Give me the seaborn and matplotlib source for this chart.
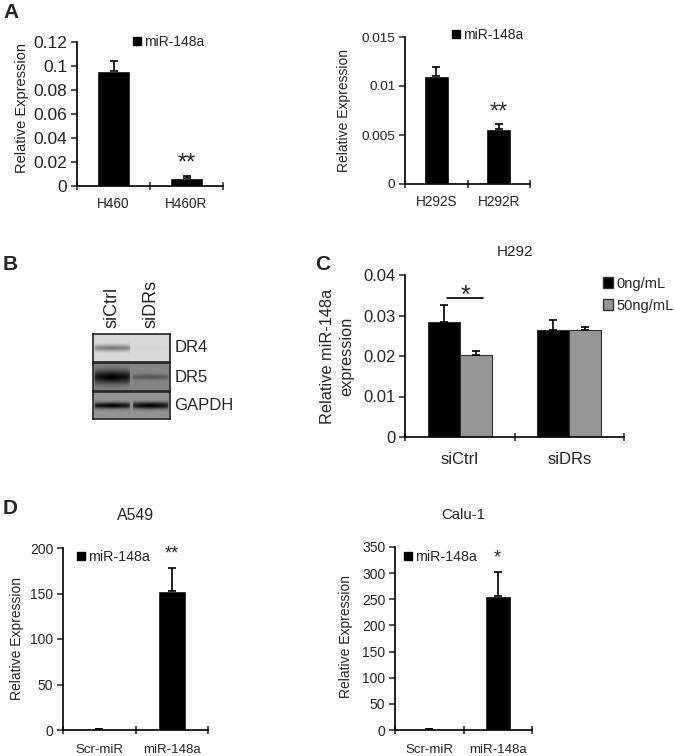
import numpy as np
import pandas as pd
import matplotlib
matplotlib.use('Agg')
import matplotlib.pyplot as plt
from matplotlib.patches import Patch
from matplotlib.ticker import FuncFormatter
import seaborn as sns

# ---- data ----
a1_cells = ['H460', 'H460R']
a1_expr = [0.096, 0.007]
a1_err = [0.008, 0.001]

a2_cells = ['H292S', 'H292R']
a2_expr = [0.011, 0.0056]
a2_err = [0.0009, 0.0005]

c_groups = ['siCtrl', 'siDRs']
c_doses = ['0ng/mL', '50ng/mL']
c_expr_0 = [0.0283, 0.0265]
c_err_0 = [0.0042, 0.0023]
c_expr_50 = [0.0202, 0.0265]
c_err_50 = [0.0011, 0.0007]

d_groups = ['Scr-miR', 'miR-148a']
d1_expr = [1.0, 153.0]
d1_err = [0.3, 25.0]
d2_expr = [1.0, 257.0]
d2_err = [0.3, 46.0]

blot_lanes = ['siCtrl', 'siDRs']
blot_rows = ['DR4', 'DR5', 'GAPDH']
blot_background = [0.85, 0.52, 0.58]
blot_band_strength = [[0.38, 0.02], [0.52, 0.2], [0.58, 0.58]]
blot_band_sigma = [[2.2, 2.0], [4.8, 1.8], [2.2, 2.4]]

W, H = 674, 756
sns.set_style('white')
plt.rcParams['font.family'] = ['Liberation Sans', 'DejaVu Sans']
plt.rcParams['axes.linewidth'] = 1.2

fig = plt.figure(figsize=(W / 100, H / 100), dpi=100)


def box(x0, y0, x1, y1):
    return [x0 / W, 1 - y1 / H, (x1 - x0) / W, (y1 - y0) / H]


def fmt_tick(v, pos):
    return f'{v:g}'


def style_axis(ax, ymax, ystep, tick_fs, xlab_fs, xpad=8):
    sns.despine(ax=ax)
    for s in ['left', 'bottom']:
        ax.spines[s].set_color('black')
    ax.set_xlim(-0.5, 1.5)
    ax.set_ylim(0, ymax)
    ax.set_yticks(np.arange(0, ymax + ystep / 2, ystep))
    ax.yaxis.set_major_formatter(FuncFormatter(fmt_tick))
    ax.tick_params(axis='y', direction='out', length=4, width=1.1,
                   labelsize=tick_fs, left=True, pad=3)
    ax.set_xticks([-0.5, 0.5, 1.5], minor=True)
    ax.tick_params(axis='x', which='major', length=0, labelsize=xlab_fs, pad=xpad)
    ax.tick_params(axis='x', which='minor', direction='inout', length=6,
                   width=1.1, bottom=True)
    ax.set_xlabel('')
    ax.set_ylabel('')


def add_errors(ax, vals, errs):
    bars = [p for c in ax.containers for p in c]
    xs = [p.get_x() + p.get_width() / 2 for p in bars]
    ax.errorbar(xs, vals, yerr=[np.zeros(len(errs)), errs], fmt='none',
                ecolor='black', elinewidth=1.2, capsize=3.2, capthick=1.2)
    return xs


def mir_legend(ax, x, y, fs=10):
    ax.legend(handles=[Patch(facecolor='black', edgecolor='black')],
              labels=['miR-148a'], loc='center left', bbox_to_anchor=(x, y),
              frameon=False, handlelength=0.55, handleheight=0.55,
              handletextpad=0.25, borderpad=0, borderaxespad=0, fontsize=fs)


def simple_panel(rect, cats, vals, errs, ymax, ystep, width, tick_fs, xlab_fs, xpad):
    ax = fig.add_axes(rect)
    sns.barplot(x=cats, y=vals, color='black', saturation=1, width=width,
                errorbar=None, ax=ax)
    style_axis(ax, ymax, ystep, tick_fs, xlab_fs, xpad)
    xs = add_errors(ax, vals, errs)
    return ax, xs


# ---- panel A ----
axA1, xs = simple_panel(box(77, 42, 223, 186), a1_cells, a1_expr, a1_err,
                        0.12, 0.02, 0.46, 12.5, 9.8, 8)
axA1.text(xs[1], a1_expr[1] + a1_err[1] + 0.0013, '**', ha='center',
          va='bottom', fontsize=17)
mir_legend(axA1, 0.384, 1.0)
fig.text(22 / W, 1 - 108 / H, 'Relative Expression', rotation=90,
         ha='center', va='center', fontsize=10.5)

axA2, xs = simple_panel(box(405, 37, 530, 184), a2_cells, a2_expr, a2_err,
                        0.015, 0.005, 0.4, 9.7, 9.8, 8)
axA2.text(xs[1], a2_expr[1] + a2_err[1] + 0.00005, '**', ha='center',
          va='bottom', fontsize=17, color='#333333')
mir_legend(axA2, 0.376, 1.014)
fig.text(344 / W, 1 - 111 / H, 'Relative Expression', rotation=90,
         ha='center', va='center', fontsize=10)

fig.text(3 / W, 1 - 13 / H, 'A', fontsize=15, fontweight='bold', va='center')

# ---- panel B: western blot ----
fig.text(3 / W, 1 - 264 / H, 'B', fontsize=15, fontweight='bold', va='center')
row_edges = [(334, 362), (363, 391), (392, 419)]
n_lanes = len(blot_lanes)
for r, (y0, y1) in enumerate(row_edges):
    ax = fig.add_axes(box(93, y0, 170, y1))
    h, w = (y1 - y0) * 4, 77 * 4
    yy = np.linspace(-(y1 - y0) / 2, (y1 - y0) / 2, h)[:, None]
    xx = np.linspace(0, n_lanes, w)[None, :]
    img = np.full((h, w), blot_background[r])
    for k in range(n_lanes):
        lane_mask = np.clip(1 - np.abs(xx - (k + 0.5)) / 0.5, 0, 1) ** 0.15
        lane_mask = np.where(np.abs(xx - (k + 0.5)) < 0.46, lane_mask, 0)
        band = np.exp(-0.5 * (yy / blot_band_sigma[r][k]) ** 2)
        img = img - blot_band_strength[r][k] * band * lane_mask
    ax.imshow(np.clip(img, 0, 1), cmap='gray', vmin=0, vmax=1,
              aspect='auto', interpolation='bilinear')
    ax.set_xticks([])
    ax.set_yticks([])
    for s in ax.spines.values():
        s.set_visible(True)
        s.set_color('#222222')
        s.set_linewidth(1.2)
    ax.text(1.06, 0.5, blot_rows[r], transform=ax.transAxes, ha='left',
            va='center', fontsize=12)
    if r == 0:
        for k, lane in enumerate(blot_lanes):
            ax.text((k + 0.5) / n_lanes, 1.22, lane, transform=ax.transAxes,
                    rotation=90, ha='center', va='bottom', fontsize=13)

# ---- panel C ----
fig.text(315 / W, 1 - 264 / H, 'C', fontsize=15, fontweight='bold', va='center')
c_df = pd.DataFrame({
    'group': c_groups * 2,
    'dose': [c_doses[0]] * 2 + [c_doses[1]] * 2,
    'expr': c_expr_0 + c_expr_50,
})
axC = fig.add_axes(box(405, 275, 624, 437))
sns.barplot(data=c_df, x='group', y='expr', hue='dose',
            palette=['black', '#959595'], saturation=1, width=0.58,
            errorbar=None, edgecolor='#333333', linewidth=0.8, ax=axC)
style_axis(axC, 0.04, 0.01, 12, 12, 11)
c_xs = add_errors(axC, c_expr_0 + c_expr_50, c_err_0 + c_err_50)
sig_y = c_expr_0[0] + c_err_0[0] + 0.0017
axC.plot([c_xs[0] + 0.03, c_xs[2] + 0.07], [sig_y, sig_y], color='black', lw=1.2)
axC.text((c_xs[0] + c_xs[2]) / 2 + 0.05, sig_y - 0.0024, '*', ha='center',
         va='bottom', fontsize=18)
axC.legend(handles=[Patch(facecolor='black', edgecolor='#333333'),
                    Patch(facecolor='#959595', edgecolor='#333333')],
           labels=c_doses, loc='upper left', bbox_to_anchor=(0.905, 0.99),
           frameon=False, handlelength=0.7, handleheight=0.7,
           handletextpad=0.2, borderpad=0, borderaxespad=0,
           labelspacing=0.55, fontsize=10.5)
axC.set_title('H292', fontsize=11, pad=14)
fig.text(328 / W, 1 - 356 / H, 'Relative miR-148a', rotation=90,
         ha='center', va='center', fontsize=11.8)
fig.text(347 / W, 1 - 356 / H, 'expression', rotation=90,
         ha='center', va='center', fontsize=11.8)

# ---- panel D ----
fig.text(3 / W, 1 - 509 / H, 'D', fontsize=15, fontweight='bold', va='center')
axD1, xs = simple_panel(box(63, 548, 208, 730), d_groups, d1_expr, d1_err,
                        200, 50, 0.39, 10, 9.5, 10)
axD1.text(xs[1], d1_expr[1] + d1_err[1] + 6, '**', ha='center',
          va='bottom', fontsize=13)
mir_legend(axD1, 0.097, 0.95, 10.3)
axD1.set_title('A549', fontsize=11.4, pad=20)
fig.text(17 / W, 1 - 638 / H, 'Relative Expression', rotation=90,
         ha='center', va='center', fontsize=10)

axD2, xs = simple_panel(box(395, 547, 532, 730), d_groups, d2_expr, d2_err,
                        350, 50, 0.38, 10, 9.5, 10)
axD2.text(xs[1], d2_expr[1] + d2_err[1] + 10, '*', ha='center',
          va='bottom', fontsize=13)
mir_legend(axD2, 0.066, 0.945, 10.3)
axD2.set_title('Calu-1', fontsize=10.8, pad=20)
fig.text(346 / W, 1 - 637 / H, 'Relative Expression', rotation=90,
         ha='center', va='center', fontsize=10)

fig.savefig('out.png', dpi=100, facecolor='white')
